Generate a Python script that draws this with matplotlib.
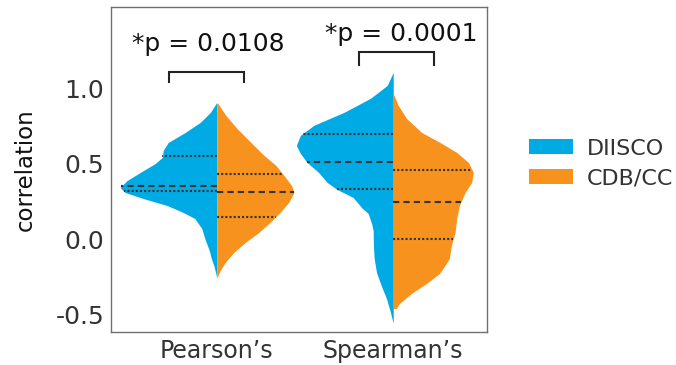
import numpy as np
import matplotlib
matplotlib.use('Agg')
import matplotlib.pyplot as plt
from matplotlib.patches import Patch

# categories and groups
categories = ['Pearson\u2019s', 'Spearman\u2019s']
groups = ['DIISCO', 'CDB/CC']
colors = ['#00AAE4', '#F7921E']

# violin profiles: correlation level and relative density
pearson_diisco_y = [0.91, 0.843, 0.777, 0.71, 0.643, 0.59, 0.543, 0.503, 0.443, 0.39, 0.343,
                    0.31, 0.27, 0.223, 0.177, 0.137, 0.07, 0.003, -0.077, -0.13, -0.177, -0.257]
pearson_diisco_d = [0.0, 0.065, 0.165, 0.315, 0.485, 0.535, 0.545, 0.615, 0.765, 0.895, 0.965,
                    0.915, 0.735, 0.495, 0.335, 0.22, 0.15, 0.12, 0.075, 0.055, 0.03, 0.0]

pearson_cdb_y = [0.903, 0.823, 0.737, 0.643, 0.557, 0.49, 0.423, 0.357, 0.31, 0.243, 0.177,
                 0.11, 0.043, -0.023, -0.09, -0.157, -0.21, -0.263]
pearson_cdb_d = [0.01, 0.09, 0.20, 0.34, 0.47, 0.59, 0.67, 0.746, 0.77, 0.716, 0.63,
                 0.53, 0.417, 0.283, 0.167, 0.083, 0.033, 0.0]

spearman_diisco_y = [1.11, 1.023, 0.937, 0.843, 0.757, 0.69, 0.623, 0.57, 0.51, 0.443, 0.377,
                     0.33, 0.277, 0.21, 0.17, 0.103, 0.057, -0.043, -0.13, -0.223, -0.31,
                     -0.397, -0.49, -0.563]
spearman_diisco_d = [0.0, 0.06, 0.227, 0.493, 0.793, 0.927, 0.967, 0.927, 0.86, 0.744, 0.66,
                     0.56, 0.40, 0.316, 0.25, 0.216, 0.20, 0.198, 0.19, 0.167, 0.12,
                     0.067, 0.027, 0.0]

spearman_cdb_y = [0.97, 0.89, 0.803, 0.71, 0.643, 0.577, 0.51, 0.443, 0.377, 0.31, 0.223,
                  0.137, 0.043, -0.043, -0.13, -0.183, -0.23, -0.297, -0.363, -0.43, -0.463]
spearman_cdb_d = [0.0, 0.05, 0.133, 0.283, 0.467, 0.633, 0.75, 0.80, 0.783, 0.717, 0.66,
                  0.633, 0.617, 0.58, 0.56, 0.51, 0.46, 0.33, 0.18, 0.06, 0.03]

# quartiles (Q1, median, Q3)
pearson_diisco_q = [0.317, 0.35, 0.55]
pearson_cdb_q = [0.15, 0.31, 0.43]
spearman_diisco_q = [0.33, 0.512, 0.70]
spearman_cdb_q = [0.0, 0.245, 0.457]

p_labels = ['*p = 0.0108', '*p = 0.0001']

violins = [
    # (category index, side, y, density, quartiles, colour index)
    (0, -1, pearson_diisco_y, pearson_diisco_d, pearson_diisco_q, 0),
    (0, 1, pearson_cdb_y, pearson_cdb_d, pearson_cdb_q, 1),
    (1, -1, spearman_diisco_y, spearman_diisco_d, spearman_diisco_q, 0),
    (1, 1, spearman_cdb_y, spearman_cdb_d, spearman_cdb_q, 1),
]

width_scale = 0.568
txt_col = '#333333'

fig = plt.figure(figsize=(6.76, 3.65), dpi=100)
ax = fig.add_axes([0.1642, 0.0912, 0.5558, 0.8888])

for cat, side, yy, dd, qq, ci in violins:
    pos = cat + 1
    yy = np.array(yy)
    half = np.array(dd) * width_scale
    ax.fill_betweenx(yy, pos, pos + side * half, color=colors[ci], linewidth=0)
    # quartile lines, going from the centre to the edge of the half violin
    for k, q in enumerate(qq):
        w = np.interp(q, yy[::-1], half[::-1])
        ls = (0, (3, 2)) if k == 1 else (0, (1, 1))
        ax.plot([pos, pos + side * w], [q, q], color=txt_col, lw=1.5, linestyle=ls,
                solid_capstyle='butt', dash_capstyle='butt')

# significance brackets
brackets = [
    (0.727, 1.153, 1.043, 1.11, 0.95, 1.30),
    (1.807, 2.233, 1.157, 1.243, 2.045, 1.368),
]
for (x0, x1, ylo, yhi, tx, ty), lab in zip(brackets, p_labels):
    ax.plot([x0, x0, x1, x1], [ylo, yhi, yhi, ylo], color='#222222', lw=1.5,
            solid_joinstyle='miter')
    ax.text(tx, ty, lab, ha='center', va='center', fontsize=18, color='#111111')

ax.set_xlim(0.4, 2.53)
ax.set_ylim(-0.617, 1.543)
ax.set_xticks([1, 2])
ax.set_xticklabels(categories, fontsize=17, color=txt_col)
ax.set_yticks([-0.5, 0.0, 0.5, 1.0])
ax.set_yticklabels(['-0.5', '0.0', '0.5', '1.0'], fontsize=18, color=txt_col)
ax.tick_params(length=0, pad=5)
ax.set_ylabel('correlation', fontsize=16.5, color='#111111')
ax.yaxis.set_label_coords(-0.197, 0.5)
for sp in ax.spines.values():
    sp.set_color('#707070')
    sp.set_linewidth(1.0)

handles = [Patch(facecolor=c, edgecolor='none') for c in colors]
fig.legend(handles, groups, loc='center left', bbox_to_anchor=(529 / 676, 0.552),
           frameon=False, fontsize=16, handlelength=2.0, handleheight=0.68,
           handletextpad=0.6, labelspacing=0.45, borderpad=0, borderaxespad=0,
           labelcolor=txt_col)

fig.savefig('out.png', dpi=100)
